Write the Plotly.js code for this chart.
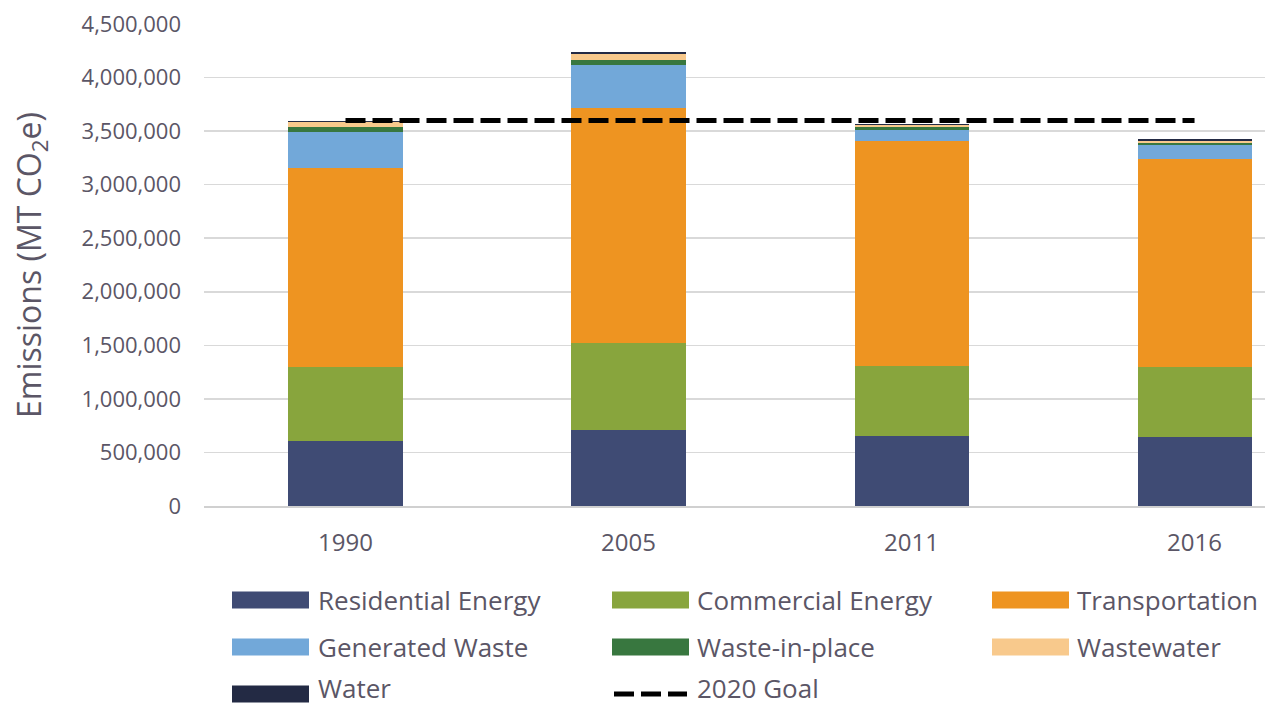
<!DOCTYPE html>
<html>
<head>
<meta charset="utf-8">
<script src="https://cdn.plot.ly/plotly-3.0.1.min.js"></script>
<style>
  html, body { margin: 0; padding: 0; background: #ffffff; }
  #chart { width: 1272px; height: 706px; }
</style>
</head>
<body>
<div id="chart"></div>
<script>
// ---- data ----
const years = ["1990", "2005", "2011", "2016"];
const residentialEnergy = [607000, 710000, 654000, 644000];
const commercialEnergy  = [693000, 810000, 653000, 654000];
const transportation    = [1856000, 2196000, 2101000, 1942000];
const generatedWaste    = [334000, 402000, 102000, 130000];
const wasteInPlace      = [50000, 47000, 25000, 20000];
const wastewater        = [47000, 55000, 21000, 20000];
const water             = [8000, 20000, 9000, 20000];
const goal2020          = [3600000, 3600000, 3600000, 3600000];
const yTickValues = [0, 500000, 1000000, 1500000, 2000000, 2500000, 3000000, 3500000, 4000000, 4500000];
const yTickLabels = ["0", "500,000", "1,000,000", "1,500,000", "2,000,000", "2,500,000", "3,000,000", "3,500,000", "4,000,000", "4,500,000"];

const seriesNames  = ["Residential Energy", "Commercial Energy", "Transportation", "Generated Waste", "Waste-in-place", "Wastewater", "Water"];
const seriesValues = [residentialEnergy, commercialEnergy, transportation, generatedWaste, wasteInPlace, wastewater, water];
const seriesColors = ["#3f4b74", "#88a53d", "#ee9421", "#72a8d9", "#38773f", "#f8c98c", "#232a44"];

const FONT = "Open Sans, Noto Sans, sans-serif";
const TEXT = "#5b5666";

const traces = seriesNames.map((n, i) => ({
  type: "bar", name: n, x: years, y: seriesValues[i],
  marker: { color: seriesColors[i], line: { width: 0 } },
  width: 0.403, hoverinfo: "name+y"
}));
traces.push({
  type: "scatter", mode: "lines", name: "2020 Goal", x: years, y: goal2020,
  line: { color: "#000000", width: 5, dash: "20px,7px" }
});

// plot geometry (pixels)
const L = 204, R = 7, T = 24, B = 200, W = 1272, H = 706;
const pw = W - L - R, ph = H - T - B;
const px = x => (x - L) / pw;
const py = y => (H - B - y) / ph;

// custom legend
const legendItems = [
  { name: "Residential Energy", color: seriesColors[0], sx: 232, tx: 317, cy: 600 },
  { name: "Commercial Energy",  color: seriesColors[1], sx: 612, tx: 696, cy: 600 },
  { name: "Transportation",     color: seriesColors[2], sx: 992, tx: 1076, cy: 600 },
  { name: "Generated Waste",    color: seriesColors[3], sx: 232, tx: 317, cy: 647 },
  { name: "Waste-in-place",     color: seriesColors[4], sx: 612, tx: 696, cy: 647 },
  { name: "Wastewater",         color: seriesColors[5], sx: 992, tx: 1076, cy: 647 },
  { name: "Water",              color: seriesColors[6], sx: 232, tx: 317, cy: 694 },
  { name: "2020 Goal",          color: "#000000",      sx: 612, tx: 696, cy: 694, dash: true }
];
const shapes = [];
const annotations = [];
legendItems.forEach(it => {
  if (it.dash) {
    shapes.push({ type: "line", xref: "paper", yref: "paper",
      x0: px(it.sx + 2), x1: px(it.sx + 75), y0: py(it.cy), y1: py(it.cy),
      line: { color: "#000000", width: 5, dash: "20px,7px" } });
  } else {
    shapes.push({ type: "rect", xref: "paper", yref: "paper",
      x0: px(it.sx), x1: px(it.sx + 77), y0: py(it.cy - 8.5), y1: py(it.cy + 8.5),
      fillcolor: it.color, line: { width: 0 } });
  }
  const ty = it.cy >= 690 ? it.cy - 6 : it.cy;
  annotations.push({ xref: "paper", yref: "paper", x: px(it.tx), y: py(ty),
    xanchor: "left", yanchor: "middle", showarrow: false, text: it.name,
    borderpad: 0,
    font: { family: FONT, size: 26, color: TEXT } });
});

const layout = {
  width: W, height: H,
  margin: { l: L, r: R, t: T, b: B, pad: 0 },
  paper_bgcolor: "#ffffff", plot_bgcolor: "#ffffff",
  barmode: "stack",
  showlegend: false,
  font: { family: FONT, color: TEXT },
  xaxis: {
    type: "category", range: [-0.5, 3.249],
    showgrid: false, zeroline: false,
    showline: true, linecolor: "#d0d0d0", linewidth: 2,
    ticks: "", ticklabelstandoff: 14,
    tickfont: { family: FONT, size: 24, color: TEXT }
  },
  yaxis: {
    range: [0, 4500000],
    tickvals: yTickValues, ticktext: yTickLabels,
    showgrid: true, gridcolor: "#d9d9d9", gridwidth: 1.5,
    zeroline: false, showline: false, ticks: "",
    ticklabelstandoff: 22,
    tickfont: { family: FONT, size: 22, color: TEXT },
    title: { text: "Emissions (MT CO<sub>2</sub>e)", font: { family: FONT, size: 32, color: TEXT }, standoff: 30 }
  },
  shapes: shapes,
  annotations: annotations
};

Plotly.newPlot("chart", traces, layout, { displayModeBar: false, staticPlot: true });
</script>
</body>
</html>
